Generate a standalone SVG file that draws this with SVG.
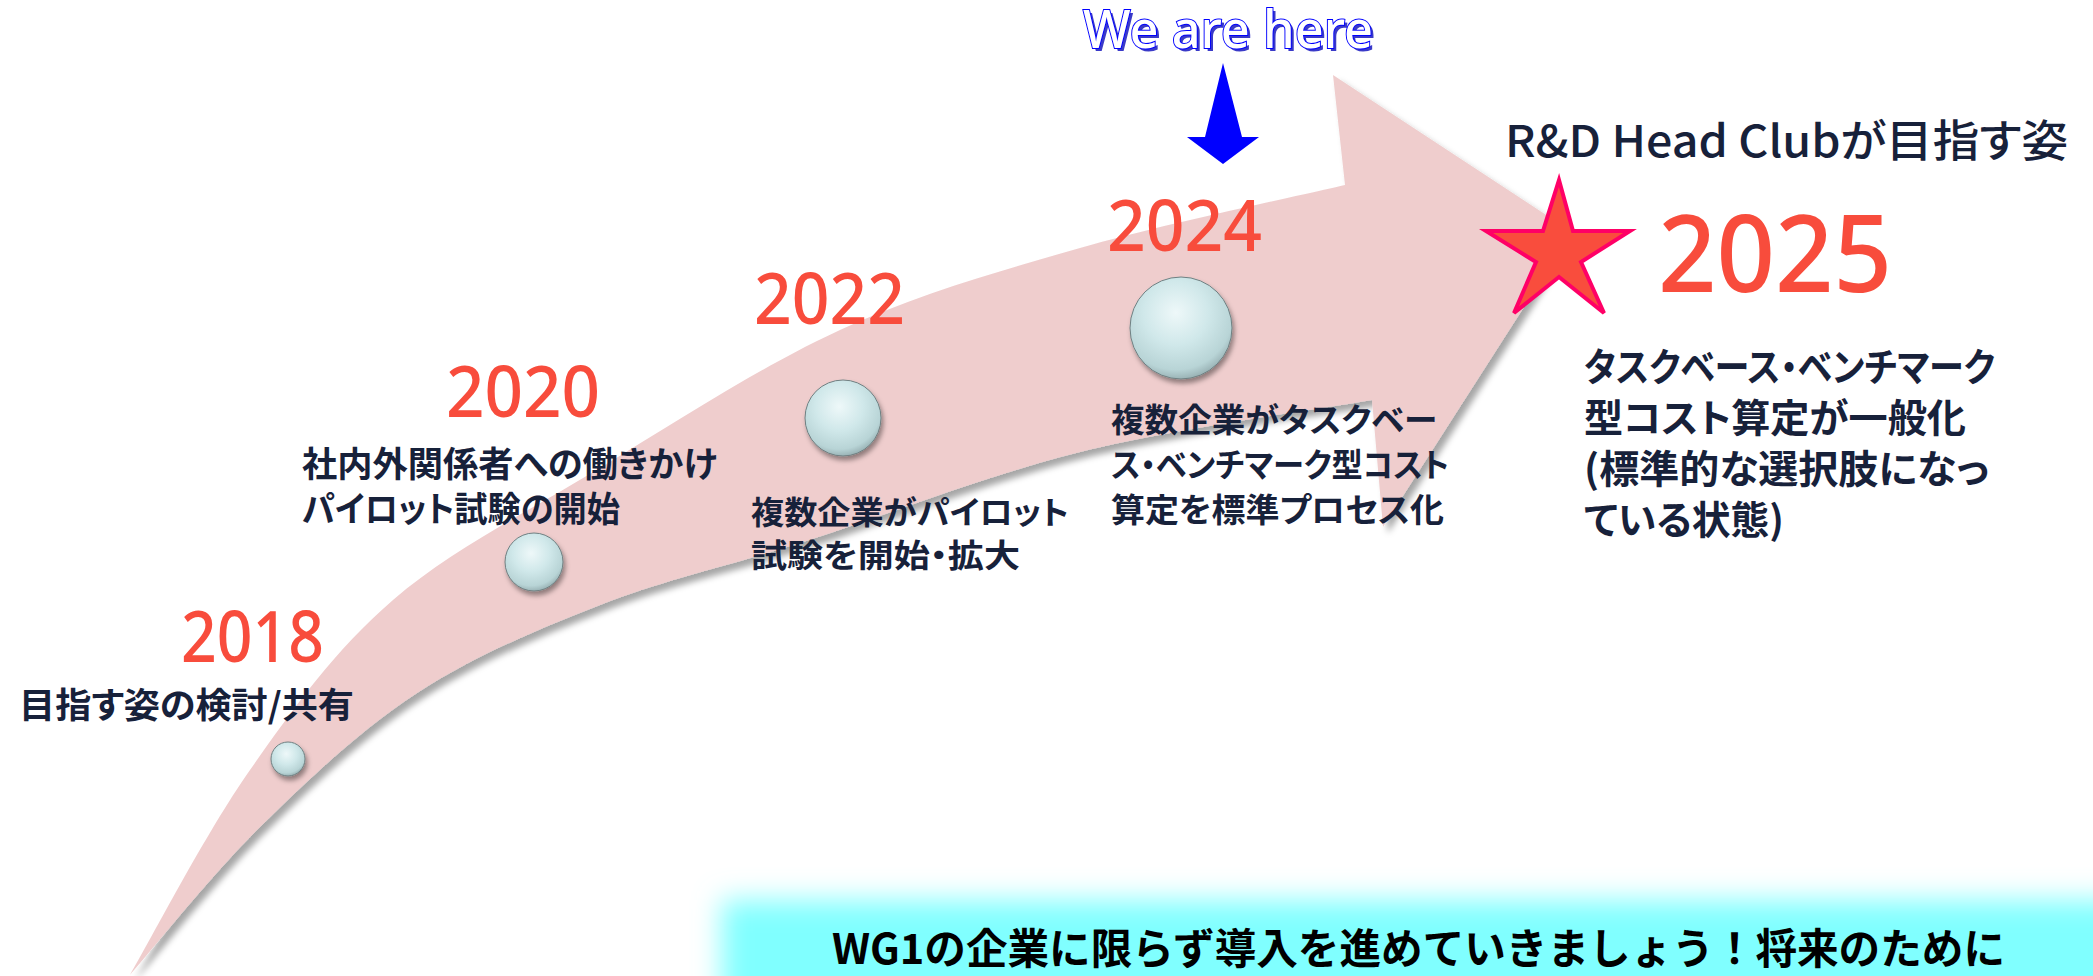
<svg xmlns="http://www.w3.org/2000/svg" width="2093" height="976" viewBox="0 0 2093 976">
<defs>
<style>
.yr{font-family:"Noto Sans","Open Sans","Noto Sans CJK JP",sans-serif;font-weight:500;fill:#F84C3C;font-size:70px}
.tx{font-family:"Noto Sans CJK JP","Noto Sans",sans-serif;font-weight:700;fill:#17213A;font-feature-settings:"palt"}
.tm{font-family:"Noto Sans CJK JP","Noto Sans",sans-serif;font-weight:500;fill:#17213A;font-feature-settings:"palt"}
.sphere{fill:url(#sph);stroke:#6f8082;stroke-width:1;filter:url(#sshadow)}
</style>
<radialGradient id="sph" cx="0.45" cy="0.35" r="0.7">
<stop offset="0" stop-color="#EEF8F9"/>
<stop offset="0.45" stop-color="#D0E8EA"/>
<stop offset="0.8" stop-color="#B8D4D6"/>
<stop offset="1" stop-color="#8AA2A5"/>
</radialGradient>
<filter id="ashadow" x="-10%" y="-10%" width="130%" height="130%">
<feDropShadow dx="5" dy="6" stdDeviation="3" flood-color="#000" flood-opacity="0.35"/>
</filter>
<filter id="sshadow" x="-30%" y="-30%" width="170%" height="170%">
<feDropShadow dx="2" dy="4" stdDeviation="2.5" flood-color="#000" flood-opacity="0.4"/>
</filter>
<filter id="glow" x="-10%" y="-50%" width="120%" height="200%">
<feGaussianBlur stdDeviation="14"/>
</filter>
</defs>
<rect width="2093" height="976" fill="#FFFFFF"/>

<g id="banner-glow">
<rect x="722" y="900" width="1420" height="140" fill="#80FFFF" filter="url(#glow)"/>
</g>

<g id="connectors">
<path id="timeline-arrow" filter="url(#ashadow)" fill="#EFCDCD" d="M130,975 C150,941 206,832.5 250,770 C294,707.5 334.7,650.3 393,600 C451.3,549.7 525.5,513 600,468 C674.5,423 760,366.7 840,330 C920,293.3 995.8,272.2 1080,248 C1164.2,223.8 1300.8,195.5 1345,185 L1333,75 L1572,232 L1383,527 L1372,400 C1323.3,408.7 1175.3,428.2 1080,452 C984.7,475.8 880,517.5 800,543 C720,568.5 663.8,580 600,605 C536.2,630 473.7,656 417,693 C360.3,730 307.8,780 260,827 C212.2,874 151.7,950.3 130,975 Z"/>
<polygon id="here-arrow" fill="#0000FF" points="1223,63 1242,137 1259,137 1223,164 1187,137 1205,137"/>
</g>

<g id="m2018">
<circle class="sphere" cx="288" cy="759" r="17"/>
<text class="yr" x="181" y="662" textLength="143" lengthAdjust="spacingAndGlyphs">2018</text>
<text class="tx" x="19" y="718" font-size="35" textLength="335" lengthAdjust="spacingAndGlyphs">目指す姿の検討/共有</text>
</g>

<g id="m2020">
<circle class="sphere" cx="534" cy="562" r="29"/>
<text class="yr" x="446" y="417" textLength="154" lengthAdjust="spacingAndGlyphs">2020</text>
<text class="tx" x="302" y="477" font-size="35" textLength="415" lengthAdjust="spacingAndGlyphs">社内外関係者への働きかけ</text>
<text class="tx" x="302" y="522" font-size="35" textLength="318" lengthAdjust="spacingAndGlyphs">パイロット試験の開始</text>
</g>

<g id="m2022">
<circle class="sphere" cx="843" cy="418" r="38"/>
<text class="yr" x="754" y="324" textLength="151" lengthAdjust="spacingAndGlyphs">2022</text>
<text class="tx" x="751" y="524" font-size="32" textLength="318" lengthAdjust="spacingAndGlyphs">複数企業がパイロット</text>
<text class="tx" x="751" y="567" font-size="32" textLength="269" lengthAdjust="spacingAndGlyphs">試験を開始・拡大</text>
</g>

<g id="m2024">
<circle class="sphere" cx="1181" cy="328" r="51"/>
<text class="yr" x="1107" y="251" textLength="155" lengthAdjust="spacingAndGlyphs">2024</text>
<text class="tx" x="1111" y="432" font-size="33" textLength="326" lengthAdjust="spacingAndGlyphs">複数企業がタスクベー</text>
<text class="tx" x="1111" y="477" font-size="33" textLength="338" lengthAdjust="spacingAndGlyphs">ス・ベンチマーク型コスト</text>
<text class="tx" x="1111" y="522" font-size="33" textLength="333" lengthAdjust="spacingAndGlyphs">算定を標準プロセス化</text>
</g>

<g id="we-are-here">
<text x="1086" y="51" font-family="'Noto Sans','Open Sans',sans-serif" font-weight="500" font-size="52" fill="#3A3AC8" textLength="290" lengthAdjust="spacingAndGlyphs">We are here</text>
<text x="1083" y="48" font-family="'Noto Sans','Open Sans',sans-serif" font-weight="500" font-size="52" fill="#FFFFFF" stroke="#0000FF" stroke-width="2" paint-order="stroke" textLength="290" lengthAdjust="spacingAndGlyphs">We are here</text>
</g>

<g id="m2025">
<text class="tm" x="1505" y="157" font-size="44" textLength="563" lengthAdjust="spacingAndGlyphs">R&amp;D Head Clubが目指す姿</text>
<polygon fill="#F94D3D" stroke="#FF0066" stroke-width="4" stroke-linejoin="miter" points="1559,180 1573,231 1630,231 1581,262 1604,313 1559,277 1514,313 1536,262 1486,231 1543,231"/>
<text class="yr" x="1658" y="292" style="font-size:107px" textLength="234" lengthAdjust="spacingAndGlyphs">2025</text>
<text class="tx" x="1584" y="381" font-size="39" textLength="411" lengthAdjust="spacingAndGlyphs">タスクベース・ベンチマーク</text>
<text class="tx" x="1584" y="432" font-size="39" textLength="382" lengthAdjust="spacingAndGlyphs">型コスト算定が一般化</text>
<text class="tx" x="1584" y="483" font-size="39" textLength="405" lengthAdjust="spacingAndGlyphs">(標準的な選択肢になっ</text>
<text class="tx" x="1584" y="534" font-size="39" textLength="200" lengthAdjust="spacingAndGlyphs">ている状態)</text>
</g>

<g id="banner">
<text x="832" y="964" font-family="'Noto Sans CJK JP',sans-serif" font-weight="700" font-size="42" fill="#000000" textLength="1173" lengthAdjust="spacingAndGlyphs">WG1の企業に限らず導入を進めていきましょう！将来のために</text>
</g>
</svg>
